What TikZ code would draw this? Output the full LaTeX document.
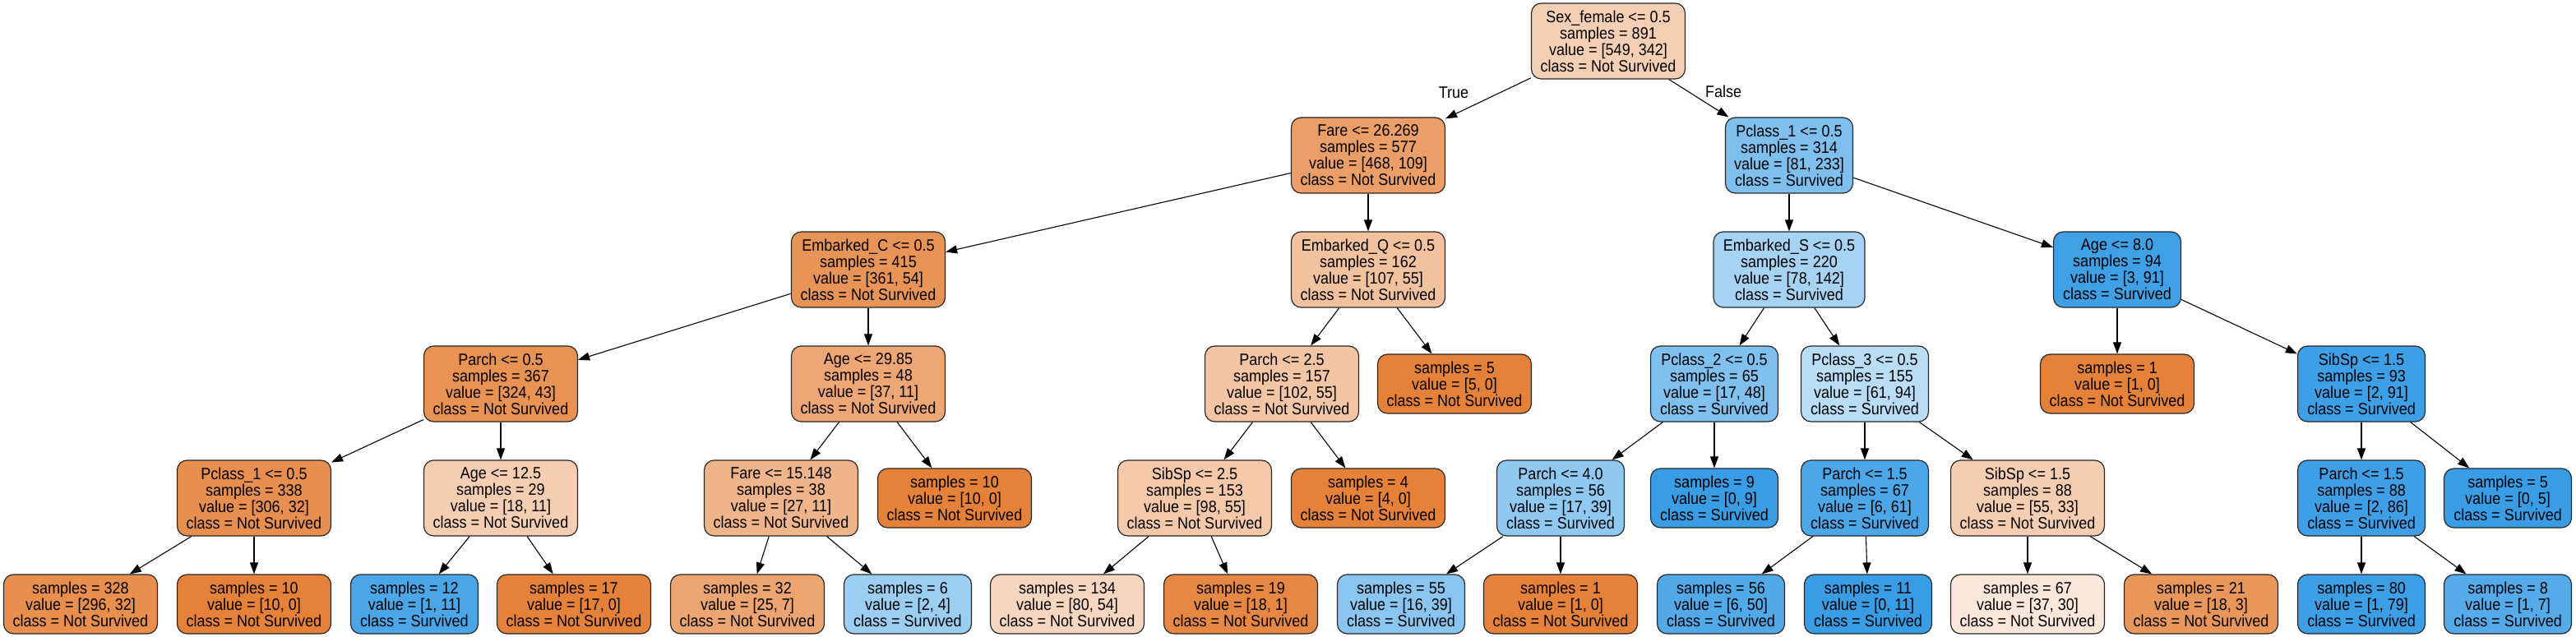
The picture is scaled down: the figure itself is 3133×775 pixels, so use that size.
\documentclass[tikz,border=0pt]{standalone}
\usepackage{fontspec}
\setmainfont{Liberation Sans}[FakeStretch=0.9]
\usetikzlibrary{arrows.meta}
\definecolor{k0}{RGB}{245,207,180}
\definecolor{k1}{RGB}{235,158,103}
\definecolor{k2}{RGB}{233,148,87}
\definecolor{k3}{RGB}{232,146,83}
\definecolor{k4}{RGB}{232,142,78}
\definecolor{k5}{RGB}{232,143,78}
\definecolor{kO}{RGB}{229,129,57}
\definecolor{k7}{RGB}{245,206,178}
\definecolor{k8}{RGB}{75,166,231}
\definecolor{k10}{RGB}{237,166,116}
\definecolor{k11}{RGB}{240,180,138}
\definecolor{k12}{RGB}{236,164,112}
\definecolor{k13}{RGB}{156,206,242}
\definecolor{k15}{RGB}{242,194,159}
\definecolor{k16}{RGB}{243,197,164}
\definecolor{k17}{RGB}{244,200,168}
\definecolor{k18}{RGB}{247,214,191}
\definecolor{k19}{RGB}{230,136,68}
\definecolor{k22}{RGB}{126,191,238}
\definecolor{k23}{RGB}{166,211,243}
\definecolor{k24}{RGB}{127,192,238}
\definecolor{k25}{RGB}{143,200,240}
\definecolor{k26}{RGB}{138,197,240}
\definecolor{kB}{RGB}{57,157,229}
\definecolor{k29}{RGB}{186,221,246}
\definecolor{k30}{RGB}{76,167,232}
\definecolor{k31}{RGB}{81,169,232}
\definecolor{k33}{RGB}{245,205,176}
\definecolor{k34}{RGB}{250,231,218}
\definecolor{k35}{RGB}{233,150,90}
\definecolor{k36}{RGB}{63,160,230}
\definecolor{k38}{RGB}{61,159,230}
\definecolor{k39}{RGB}{62,159,230}
\definecolor{k40}{RGB}{60,158,229}
\definecolor{k41}{RGB}{85,171,233}
\tikzset{
  box/.style={draw=black!85, line width=0.6pt, rounded corners=6pt, align=center,
    inner sep=0pt, font=\fontsize{10}{10}\selectfont},
  splitns/.style={box, minimum width=93.5pt, minimum height=46pt},
  splits/.style={box, minimum width=77.5pt, minimum height=46pt},
  splitw/.style={box, minimum width=92pt, minimum height=46pt},
  leafns/.style={box, minimum width=93.5pt, minimum height=36pt},
  leafs/.style={box, minimum width=77.5pt, minimum height=36pt},
  edgelabel/.style={font=\fontsize{10}{10}\selectfont, inner sep=0pt},
  conn/.style={draw=black, line width=0.55pt, -{Triangle[length=7pt,width=5pt]}}
}
\begin{document}
\begin{tikzpicture}[x=0.5pt,y=-0.5pt]
\useasboundingbox (0,0) rectangle (3133,775);
% level 0
\node[splitns, fill=k0] (n0) at (1956,50) {Sex\_female <= 0.5\\samples = 891\\value = [549, 342]\\class = Not Survived};
% level 1
\node[splitns, fill=k1] (n1) at (1664,189) {Fare <= 26.269\\samples = 577\\value = [468, 109]\\class = Not Survived};
\node[splits, fill=k22] (n22) at (2176,189) {Pclass\_1 <= 0.5\\samples = 314\\value = [81, 233]\\class = Survived};
% level 2
\node[splitns, fill=k2] (n2) at (1056,328) {Embarked\_C <= 0.5\\samples = 415\\value = [361, 54]\\class = Not Survived};
\node[splitns, fill=k15] (n15) at (1664,328) {Embarked\_Q <= 0.5\\samples = 162\\value = [107, 55]\\class = Not Survived};
\node[splitw, fill=k23] (n23) at (2176,328) {Embarked\_S <= 0.5\\samples = 220\\value = [78, 142]\\class = Survived};
\node[splits, fill=k36] (n36) at (2575,328) {Age <= 8.0\\samples = 94\\value = [3, 91]\\class = Survived};
% level 3
\node[splitns, fill=k3] (n3) at (609,467) {Parch <= 0.5\\samples = 367\\value = [324, 43]\\class = Not Survived};
\node[splitns, fill=k10] (n10) at (1056,467) {Age <= 29.85\\samples = 48\\value = [37, 11]\\class = Not Survived};
\node[splitns, fill=k16] (n16) at (1559,467) {Parch <= 2.5\\samples = 157\\value = [102, 55]\\class = Not Survived};
\node[leafns, fill=kO] (n21) at (1769,467) {samples = 5\\value = [5, 0]\\class = Not Survived};
\node[splits, fill=k24] (n24) at (2085,467) {Pclass\_2 <= 0.5\\samples = 65\\value = [17, 48]\\class = Survived};
\node[splits, fill=k29] (n29) at (2268,467) {Pclass\_3 <= 0.5\\samples = 155\\value = [61, 94]\\class = Survived};
\node[leafns, fill=kO] (n37) at (2575,467) {samples = 1\\value = [1, 0]\\class = Not Survived};
\node[splits, fill=k38] (n38) at (2872,467) {SibSp <= 1.5\\samples = 93\\value = [2, 91]\\class = Survived};
% level 4
\node[splitns, fill=k4] (n4) at (309,606) {Pclass\_1 <= 0.5\\samples = 338\\value = [306, 32]\\class = Not Survived};
\node[splitns, fill=k7] (n7) at (609,606) {Age <= 12.5\\samples = 29\\value = [18, 11]\\class = Not Survived};
\node[splitns, fill=k11] (n11) at (950,606) {Fare <= 15.148\\samples = 38\\value = [27, 11]\\class = Not Survived};
\node[leafns, fill=kO] (n14) at (1161,606) {samples = 10\\value = [10, 0]\\class = Not Survived};
\node[splitns, fill=k17] (n17) at (1453,606) {SibSp <= 2.5\\samples = 153\\value = [98, 55]\\class = Not Survived};
\node[leafns, fill=kO] (n20) at (1664,606) {samples = 4\\value = [4, 0]\\class = Not Survived};
\node[splits, fill=k25] (n25) at (1898,606) {Parch <= 4.0\\samples = 56\\value = [17, 39]\\class = Survived};
\node[leafs, fill=kB] (n28) at (2085,606) {samples = 9\\value = [0, 9]\\class = Survived};
\node[splits, fill=k30] (n30) at (2268,606) {Parch <= 1.5\\samples = 67\\value = [6, 61]\\class = Survived};
\node[splitns, fill=k33] (n33) at (2466,606) {SibSp <= 1.5\\samples = 88\\value = [55, 33]\\class = Not Survived};
\node[splits, fill=k39] (n39) at (2872,606) {Parch <= 1.5\\samples = 88\\value = [2, 86]\\class = Survived};
\node[leafs, fill=kB] (n42) at (3050,606) {samples = 5\\value = [0, 5]\\class = Survived};
% level 5
\node[leafns, fill=k5] (n5) at (98,735) {samples = 328\\value = [296, 32]\\class = Not Survived};
\node[leafns, fill=kO] (n6) at (309,735) {samples = 10\\value = [10, 0]\\class = Not Survived};
\node[leafs, fill=k8] (n8) at (504,735) {samples = 12\\value = [1, 11]\\class = Survived};
\node[leafns, fill=kO] (n9) at (698,735) {samples = 17\\value = [17, 0]\\class = Not Survived};
\node[leafns, fill=k12] (n12) at (909,735) {samples = 32\\value = [25, 7]\\class = Not Survived};
\node[leafs, fill=k13] (n13) at (1104,735) {samples = 6\\value = [2, 4]\\class = Survived};
\node[leafns, fill=k18] (n18) at (1298,735) {samples = 134\\value = [80, 54]\\class = Not Survived};
\node[leafns, fill=k19] (n19) at (1509,735) {samples = 19\\value = [18, 1]\\class = Not Survived};
\node[leafs, fill=k26] (n26) at (1704,735) {samples = 55\\value = [16, 39]\\class = Survived};
\node[leafns, fill=kO] (n27) at (1898,735) {samples = 1\\value = [1, 0]\\class = Not Survived};
\node[leafs, fill=k31] (n31) at (2093,735) {samples = 56\\value = [6, 50]\\class = Survived};
\node[leafs, fill=kB] (n32) at (2272,735) {samples = 11\\value = [0, 11]\\class = Survived};
\node[leafns, fill=k34] (n34) at (2466,735) {samples = 67\\value = [37, 30]\\class = Not Survived};
\node[leafns, fill=k35] (n35) at (2677,735) {samples = 21\\value = [18, 3]\\class = Not Survived};
\node[leafs, fill=k40] (n40) at (2872,735) {samples = 80\\value = [1, 79]\\class = Survived};
\node[leafs, fill=k41] (n41) at (3050,735) {samples = 8\\value = [1, 7]\\class = Survived};
% edge labels
\node[edgelabel] (tl) at (1768,113) {True};
\node[edgelabel] (fl) at (2096,111) {False};
% connectors
\foreach \a/\b in {n0/n1, n0/n22, n1/n2, n1/n15, n2/n3, n2/n10, n3/n4, n3/n7,
  n4/n5, n4/n6, n7/n8, n7/n9, n10/n11, n10/n14, n11/n12, n11/n13,
  n15/n16, n15/n21, n16/n17, n16/n20, n17/n18, n17/n19,
  n22/n23, n22/n36, n23/n24, n23/n29, n24/n25, n24/n28, n25/n26, n25/n27,
  n29/n30, n29/n33, n30/n31, n30/n32, n33/n34, n33/n35,
  n36/n37, n36/n38, n38/n39, n38/n42, n39/n40, n39/n41}
  \draw[conn] (\a) -- (\b);
\end{tikzpicture}
\end{document}
